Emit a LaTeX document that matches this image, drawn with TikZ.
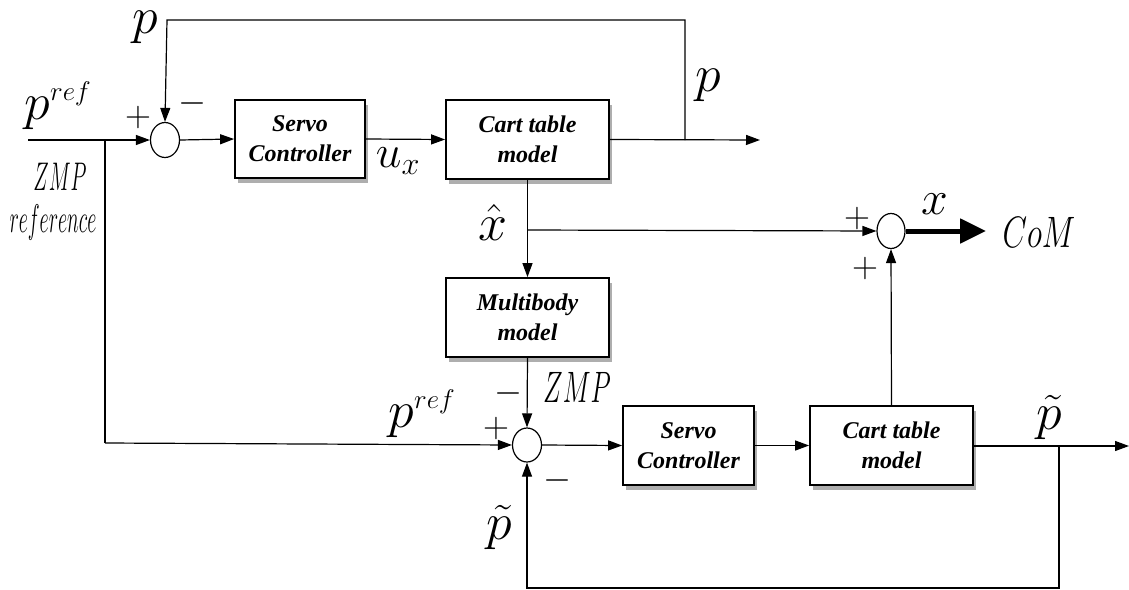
\RequirePackage{fix-cm}
\documentclass[tikz,border=0pt]{standalone}
\usepackage{fontspec}
\newfontfamily\tnr{Liberation Serif}
\usetikzlibrary{arrows.meta,shapes.geometric,shadows}
\newcommand{\refsup}{\mbox{\fontsize{27}{27}\selectfont$ref$}}
\begin{document}
\begin{tikzpicture}[x=1pt,y=-1pt,
  blk/.style={draw,line width=1.8pt,fill=white,minimum width=163pt,minimum height=79pt,inner sep=0pt,align=center,
    font=\tnr\bfseries\itshape\fontsize{24}{30}\selectfont,
    drop shadow={shadow xshift=3pt,shadow yshift=-5pt,opacity=0.45,fill=black!70}},
  sumj/.style={draw,ellipse,line width=1.2pt,minimum width=29pt,minimum height=35pt,inner sep=0pt},
  wire/.style={line width=1.2pt},
  arr/.style={wire,-{Triangle[length=14pt,width=10pt]}},
  big/.style={inner sep=0pt,font=\fontsize{52}{52}\selectfont},
  sgn/.style={inner sep=0pt,font=\fontsize{36}{36}\selectfont},
  cond/.style={inner sep=0pt}
]
\useasboundingbox (0,0) rectangle (1129,589);
% blocks
\node[sumj] (s1) at (165,140) {};
\node[blk,minimum width=130pt,minimum height=78pt] (sc1) at (300,139) {Servo\\Controller};
\node[blk] (ct1) at (527.5,139.5) {Cart table\\model};
\node[blk] (mb) at (527.5,317.5) {Multibody\\model};
\node[sumj,minimum width=28pt] (s2) at (891,231) {};
\node[sumj,minimum height=34pt] (s3) at (527,445) {};
\node[blk,minimum width=131pt] (sc2) at (688.5,445.5) {Servo\\Controller};
\node[blk] (ct2) at (891.5,445.5) {Cart table\\model};
% coordinates
\coordinate (in1) at (28,140);
\coordinate (j1) at (105,140);
\coordinate (j1b) at (105,443);
\coordinate (fbA) at (167,20);
\coordinate (fbB) at (685,20);
\coordinate (br1) at (685,140);
\coordinate (out1) at (760,140);
\coordinate (xh) at (527,230);
\coordinate (com) at (986,231);
\coordinate (out2) at (1129,446);
\coordinate (br2) at (1059,446);
\coordinate (br2d) at (1059,588);
\coordinate (br2l) at (527,588);
% connectors
\draw[arr] (in1) -- (s1.west);
\draw[wire] (j1) -- (j1b);
\draw[arr] (j1b) -- (s3.west);
\draw[arr] (br1) -- (fbB) -- (fbA) -- (s1.north);
\draw[arr] (s1.east) -- (sc1.west);
\draw[arr] (sc1.east) -- (ct1.west);
\draw[arr] (ct1.east) -- (out1);
\draw[arr] (ct1.south) -- (mb.north);
\draw[arr] (xh) -- (s2.west);
\draw[line width=5pt,-{Triangle[length=26pt,width=24pt]}] (s2.east) -- (com);
\draw[arr] (ct2.north) -- (s2.south);
\draw[arr] (mb.south) -- (s3.north);
\draw[arr] (s3.east) -- (sc2.west);
\draw[arr] (sc2.east) -- (ct2.west);
\draw[arr] (ct2.east|-br2) -- (out2);
\draw[arr] (br2) -- (br2d) -- (br2l) -- (s3.south);
% labels
\node[big] (lp1) at (145,27) {$p$};
\node[big] (lpref1) at (58,106) {$p^{\refsup}$};
\node[sgn] (pl1) at (138,117) {$+$};
\node[sgn] (mi1) at (192,103) {$-$};
\node[big,font=\fontsize{46}{46}\selectfont] (lux) at (398,161) {$u_x$};
\node[big] (lp2) at (708,85) {$p$};
\node[big] (lxh) at (493,222) {$\hat{x}$};
\node[sgn] (pl2) at (857,218) {$+$};
\node[sgn] (pl3) at (865,268) {$+$};
\node[big,font=\fontsize{48}{48}\selectfont] (lx) at (935,204) {$x$};
\node[cond] (lcom) at (1039,232) {\scalebox{0.72}[1]{\fontsize{44}{44}\selectfont$CoM$}};
\node[cond] (lzmp1) at (60,177) {\scalebox{0.52}[1]{\fontsize{40}{40}\selectfont$ZMP$}};
\node[cond] (lref) at (53,222) {\scalebox{0.5}[1]{\fontsize{40}{40}\selectfont$reference$}};
\node[sgn] (mi2) at (508,393) {$-$};
\node[cond] (lzmp2) at (577,387) {\scalebox{0.6}[1]{\fontsize{44}{44}\selectfont$ZMP$}};
\node[big] (lpref2) at (422,414) {$p^{\refsup}$};
\node[sgn] (pl4) at (496,428) {$+$};
\node[sgn] (mi3) at (557,480) {$-$};
\node[big] (lpt1) at (499,527) {$\tilde{p}$};
\node[big] (lpt2) at (1049,417) {$\tilde{p}$};
\end{tikzpicture}
\end{document}
